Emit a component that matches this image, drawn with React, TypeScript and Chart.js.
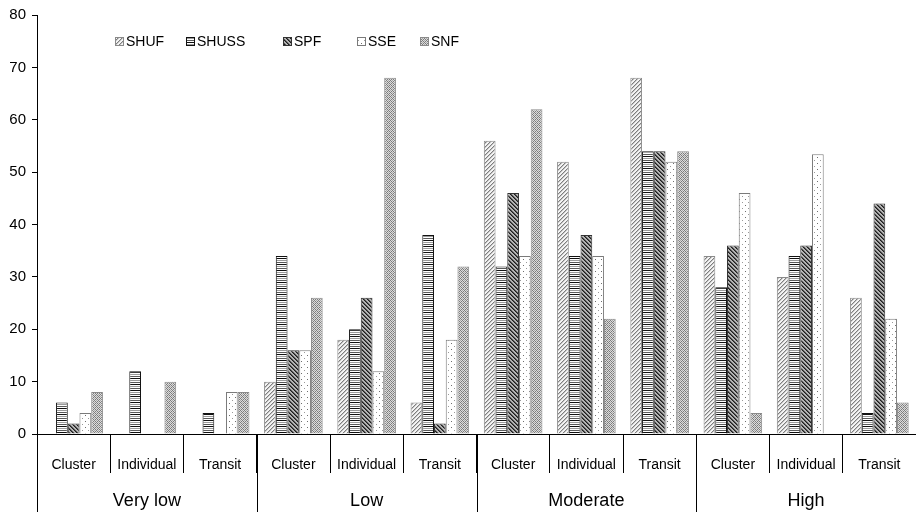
import React, { useEffect, useRef } from 'react';
import { Chart, registerables } from 'chart.js';

Chart.register(...registerables);

const subCategories = ['Cluster', 'Individual', 'Transit'];
const groups = ['Very low', 'Low', 'Moderate', 'High'];
const categories = groups.flatMap(() => subCategories);

const seriesNames = ['SHUF', 'SHUSS', 'SPF', 'SSE', 'SNF'];
const SHUF = [0, 0, 0, 10, 18, 6, 56, 52, 68, 34, 30, 26];
const SHUSS = [6, 12, 4, 34, 20, 38, 32, 34, 54, 28, 34, 4];
const SPF = [2, 0, 0, 16, 26, 2, 46, 38, 54, 36, 36, 44];
const SSE = [4, 0, 8, 16, 12, 18, 34, 34, 52, 46, 53.4, 22];
const SNF = [8, 10, 8, 26, 68, 32, 62, 22, 54, 4, 0, 6];
const seriesValues = [SHUF, SHUSS, SPF, SSE, SNF];
const yTicks = [0, 10, 20, 30, 40, 50, 60, 70, 80];

const FONT = '"Liberation Sans", Arial, sans-serif';

function makePattern(w: number, h: number, draw: (g: CanvasRenderingContext2D) => void) {
  const c = document.createElement('canvas');
  c.width = w;
  c.height = h;
  const g = c.getContext('2d')!;
  draw(g);
  return g.createPattern(c, 'repeat')!;
}

function px(g: CanvasRenderingContext2D, x: number, y: number, col: string) {
  g.fillStyle = col;
  g.fillRect(x, y, 1, 1);
}

function buildPatterns() {
  const shuf = makePattern(4, 4, (g) => {
    g.fillStyle = '#f4f4f4';
    g.fillRect(0, 0, 4, 4);
    for (let i = 0; i < 4; i++) {
      px(g, i, 3 - i, '#7e7e7e');
      px(g, (i + 1) % 4, 3 - i, '#c4c4c4');
    }
  });
  const shuss = makePattern(4, 6, (g) => {
    const rows = ['#111111', '#ffffff', '#9a9a9a', '#ffffff', '#5a5a5a', '#ffffff'];
    rows.forEach((c, i) => {
      g.fillStyle = c;
      g.fillRect(0, i, 4, 1);
    });
  });
  const spf = makePattern(4, 4, (g) => {
    g.fillStyle = '#b4b4b4';
    g.fillRect(0, 0, 4, 4);
    for (let i = 0; i < 4; i++) {
      px(g, i, i, '#1e1e1e');
      px(g, (i + 1) % 4, i, '#555555');
    }
  });
  const sse = makePattern(6, 6, (g) => {
    g.fillStyle = '#ffffff';
    g.fillRect(0, 0, 6, 6);
    px(g, 1, 1, '#6e6e6e');
    px(g, 4, 4, '#9a9a9a');
  });
  const snf = makePattern(4, 4, (g) => {
    for (let x = 0; x < 4; x++) {
      for (let y = 0; y < 4; y++) {
        px(g, x, y, (x + y) % 2 === 0 ? '#7c7c7c' : '#dcdcdc');
      }
    }
    px(g, 0, 0, '#a8a8a8');
    px(g, 2, 2, '#a8a8a8');
  });
  return [shuf, shuss, spf, sse, snf];
}

const borderColors = ['#8a8a8a', '#111111', '#333333', '#7a7a7a', '#8a8a8a'];

export default function App() {
  const ref = useRef<HTMLCanvasElement>(null);

  useEffect(() => {
    document.body.style.margin = '0';
    const canvas = ref.current;
    if (!canvas) return;
    const patterns = buildPatterns();

    const overlay = {
      id: 'overlay',
      afterDraw(chart: any) {
        const ctx = chart.ctx as CanvasRenderingContext2D;
        const xs = chart.scales.x;
        const area = chart.chartArea;
        const step = xs.getPixelForValue(1) - xs.getPixelForValue(0);
        ctx.save();
        ctx.strokeStyle = '#000';
        ctx.lineWidth = 1;
        ctx.fillStyle = '#000';
        ctx.font = `18px ${FONT}`;
        ctx.textAlign = 'center';
        ctx.textBaseline = 'middle';
        groups.forEach((g, gi) => {
          const left = xs.getPixelForValue(gi * 3) - step / 2;
          const right = xs.getPixelForValue(gi * 3 + 2) + step / 2;
          const xl = Math.round(left) + 0.5;
          ctx.beginPath();
          ctx.moveTo(xl, area.bottom);
          ctx.lineTo(xl, chart.height);
          ctx.stroke();
          ctx.fillText(g, (left + right) / 2, area.bottom + 67);
        });
        // legend
        const legendX = [115, 186, 283, 357, 420];
        const ly = 41;
        ctx.font = `14px ${FONT}`;
        ctx.textAlign = 'left';
        seriesNames.forEach((name, i) => {
          const bx = legendX[i];
          ctx.fillStyle = patterns[i];
          ctx.fillRect(bx, ly - 4, 9, 9);
          ctx.strokeStyle = borderColors[i];
          ctx.strokeRect(bx + 0.5, ly - 3.5, 8, 8);
          ctx.fillStyle = '#000';
          ctx.fillText(name, bx + 11, ly + 1);
        });
        ctx.restore();
      },
    };

    const chart = new Chart(canvas, {
      type: 'bar',
      data: {
        labels: categories,
        datasets: seriesNames.map((name, i) => ({
          label: name,
          data: seriesValues[i],
          backgroundColor: patterns[i],
          borderColor: borderColors[i],
          borderWidth: 1,
          barPercentage: 1,
          categoryPercentage: 0.8,
        })),
      },
      options: {
        responsive: true,
        maintainAspectRatio: false,
        animation: false,
        events: [],
        layout: { padding: { top: 11, left: 0, right: 0, bottom: 0 } },
        plugins: {
          legend: { display: false },
          tooltip: { enabled: false },
          title: { display: false },
        },
        scales: {
          x: {
            type: 'category',
            offset: true,
            grid: {
              offset: true,
              drawOnChartArea: false,
              drawTicks: true,
              tickLength: 39,
              lineWidth: 1,
              color: (c: any) => (c.index != null && c.index < categories.length ? '#000' : 'rgba(0,0,0,0)'),
            },
            border: { display: true, color: '#000', width: 1 },
            ticks: {
              padding: -16,
              autoSkip: false,
              maxRotation: 0,
              color: '#000',
              font: { family: FONT, size: 14 },
            },
            afterFit: (s: any) => {
              s.height = 78;
            },
          },
          y: {
            min: 0,
            max: 80,
            afterBuildTicks: (s: any) => {
              s.ticks = yTicks.map((v) => ({ value: v }));
            },
            grid: { drawOnChartArea: false, tickLength: 5, color: '#000' },
            border: { display: true, color: '#000', width: 1 },
            ticks: {
              padding: 6,
              color: '#000',
              font: { family: FONT, size: 15 },
            },
            afterFit: (s: any) => {
              s.width = 37;
            },
          },
        },
      },
      plugins: [overlay],
    });
    return () => chart.destroy();
  }, []);

  return (
    <div style={{ position: 'fixed', left: 0, top: 0, width: 916, height: 512 }}>
      <canvas ref={ref} />
    </div>
  );
}
